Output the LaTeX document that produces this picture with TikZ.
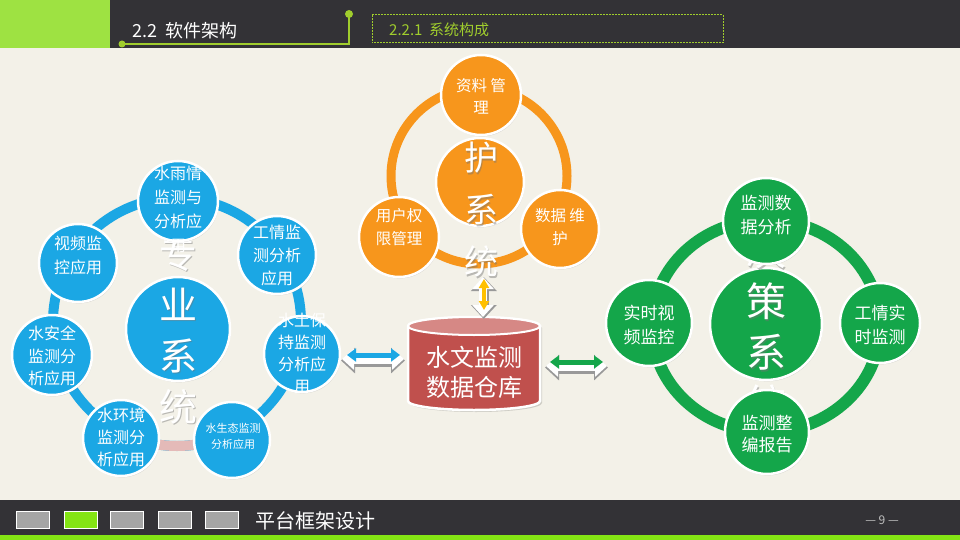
\documentclass[tikz,border=0pt]{standalone}
\usepackage{fontspec}
\setmainfont{Noto Sans CJK SC}
\usetikzlibrary{shadows,arrows.meta}
\definecolor{bgcream}{RGB}{243,241,232}
\definecolor{hdrdark}{RGB}{51,50,54}
\definecolor{hdrgreen}{RGB}{158,226,66}
\definecolor{lineg}{RGB}{160,205,45}
\definecolor{footgreen}{RGB}{132,228,20}
\definecolor{sqgray}{RGB}{165,165,165}
\definecolor{cblue}{RGB}{27,167,228}
\definecolor{pinkseg}{RGB}{228,186,184}
\definecolor{corange}{RGB}{247,150,28}
\definecolor{cgreen}{RGB}{20,166,74}
\definecolor{dbred}{RGB}{192,80,77}
\definecolor{dbtop}{RGB}{214,136,133}
\definecolor{cyellow}{RGB}{255,192,0}
\tikzset{
  sat/.style={circle, draw=white, line width=2.5pt, inner sep=0pt,
    drop shadow={opacity=0.28, shadow xshift=0.8pt, shadow yshift=-1.4pt}},
  sattxt/.style={text=white, align=center, inner sep=0pt},
  bigtxt/.style={text=white, align=center, inner sep=0pt},
  bigshd/.style={text=black!55, opacity=0.45, align=center, inner sep=0pt},
  sq/.style={rectangle, draw=white, line width=1.2pt, fill=sqgray, minimum width=33pt, minimum height=17pt, inner sep=0pt},
  tipL/.style={{Triangle[length=14pt,width=25pt]}-{Triangle[length=14pt,width=25pt]}},
  tipLw/.style={{Triangle[length=12pt,width=21pt]}-{Triangle[length=12pt,width=21pt]}},
  tipS/.style={{Triangle[length=9pt,width=13pt]}-{Triangle[length=9pt,width=13pt]}},
}
\begin{document}
\begin{tikzpicture}[x=1pt,y=-1pt]
\useasboundingbox (0,0) rectangle (960,540);
\fill[bgcream] (0,0) rectangle (960,540);
% header
\fill[hdrdark] (0,0) rectangle (960,48);
\fill[hdrgreen] (0,0) rectangle (110,48);
\draw[lineg, line width=1.6pt] (122,44) -- (349,44) -- (349,14);
\fill[lineg] (122,44) circle[radius=3.5pt];
\fill[lineg] (349,14) circle[radius=4pt];
\draw[lineg, line width=1pt, dash pattern=on 2pt off 1pt] (372,15) rectangle (723,43);
\node[anchor=west, text=white, inner sep=0pt, font=\fontsize{18}{20}\selectfont] (h1) at (132,31) {2.2\ \ 软件架构};
\node[anchor=west, text=lineg, inner sep=0pt, font=\fontsize{15}{18}\selectfont] (h2) at (389,30) {2.2.1\ \ 系统构成};
% footer
\fill[hdrdark] (0,500) rectangle (960,535);
\fill[footgreen] (0,535) rectangle (960,540);
\node[sq] (s1) at (33,520) {};
\node[sq, fill=footgreen] (s2) at (81,520) {};
\node[sq] (s3) at (127,520) {};
\node[sq] (s4) at (175,520) {};
\node[sq] (s5) at (222,520) {};
\node[anchor=west, text=white, inner sep=0pt, font=\fontsize{20}{22}\selectfont] (ft) at (255,521) {平台框架设计};
\node[text=black!25, inner sep=0pt, font=\fontsize{12}{14}\selectfont] (pg) at (882,520) {— 9 —};

% ===== blue cluster =====
\draw[cblue, line width=10pt] (177,322) circle[radius=124];
\draw[pinkseg, line width=10pt] ([shift={(75:124)}]177,322) arc[start angle=75, end angle=105, radius=124];
\node[sat, fill=cblue, minimum size=104pt] (bc) at (178,329) {};
\node[bigshd, font=\fontsize{38}{51}\selectfont] (bcs) at (179.5,331.5) {专\\业\\系\\统};
\node[bigtxt, font=\fontsize{38}{51}\selectfont] (bct) at (178,330) {专\\业\\系\\统};
\node[sat, fill=cblue, minimum size=80pt] (b1) at (178,201) {};
\node[sat, fill=cblue, minimum size=78pt] (b2) at (277,255) {};
\node[sat, fill=cblue, minimum size=76pt] (b3) at (302,354) {};
\node[sat, fill=cblue, minimum size=76pt] (b4) at (232,440) {};
\node[sat, fill=cblue, minimum size=76pt] (b5) at (121,438) {};
\node[sat, fill=cblue, minimum size=80pt] (b6) at (52,355) {};
\node[sat, fill=cblue, minimum size=78pt] (b7) at (78,263) {};
\node[sattxt, font=\fontsize{16}{24}\selectfont] (b1t) at (178,209) {水雨情\\监测与\\分析应\\用};
\node[sattxt, font=\fontsize{16}{23}\selectfont] (b2t) at (277,255) {工情监\\测分析\\应用};
\node[sattxt, font=\fontsize{16}{22}\selectfont] (b3t) at (302,353) {水土保\\持监测\\分析应\\用};
\node[sattxt, font=\fontsize{11}{16}\selectfont] (b4t) at (233,436) {水生态监测\\分析应用};
\node[sattxt, font=\fontsize{16}{22}\selectfont] (b5t) at (121,437) {水环境\\监测分\\析应用};
\node[sattxt, font=\fontsize{16}{22.5}\selectfont] (b6t) at (52,356) {水安全\\监测分\\析应用};
\node[sattxt, font=\fontsize{16}{24}\selectfont] (b7t) at (78,255) {视频监\\控应用};

% ===== orange cluster =====
\draw[corange, line width=9pt] (479,176) circle[radius=88];
\node[sat, fill=corange, minimum size=88pt] (oc) at (480,182) {};
\node[bigshd, font=\fontsize{34}{52}\selectfont] (ocs) at (482.5,185.5) {维\\护\\系\\统};
\node[bigtxt, font=\fontsize{34}{52}\selectfont] (oct) at (481,184) {维\\护\\系\\统};
\node[sat, fill=corange, minimum size=80pt] (o1) at (481,95) {};
\node[sat, fill=corange, minimum size=80pt] (o2) at (399,237) {};
\node[sat, fill=corange, minimum size=78pt] (o3) at (560,229) {};
\node[sattxt, font=\fontsize{15.5}{22}\selectfont] (o1t) at (481,96) {资料 管\\理};
\node[sattxt, font=\fontsize{15.5}{23}\selectfont] (o2t) at (399,227) {用户权\\限管理};
\node[sattxt, font=\fontsize{15.5}{23}\selectfont] (o3t) at (560,227) {数据 维\\护};

% ===== green cluster =====
\draw[cgreen, line width=12pt] (766,326) ellipse[x radius=114, y radius=106];
\node[sat, fill=cgreen, minimum size=112pt] (gc) at (766,324) {};
\node[bigshd, font=\fontsize{40}{51}\selectfont] (gcs) at (767.5,328.5) {决\\策\\系\\统};
\node[bigtxt, font=\fontsize{40}{51}\selectfont] (gct) at (766,327) {决\\策\\系\\统};
\node[sat, fill=cgreen, minimum size=86pt] (g1) at (766,221) {};
\node[sat, fill=cgreen, minimum size=86pt] (g2) at (649,323) {};
\node[sat, fill=cgreen, minimum size=80pt] (g3) at (880,323) {};
\node[sat, fill=cgreen, minimum size=84pt] (g4) at (767,432) {};
\node[sattxt, font=\fontsize{17}{24}\selectfont] (g1t) at (766,215) {监测数\\据分析};
\node[sattxt, font=\fontsize{17}{24}\selectfont] (g2t) at (649,325) {实时视\\频监控};
\node[sattxt, font=\fontsize{17}{24}\selectfont] (g3t) at (880,325) {工情实\\时监测};
\node[sattxt, font=\fontsize{17}{22}\selectfont] (g4t) at (767,434) {监测整\\编报告};

% ===== database cylinder =====
\fill[black, opacity=0.15] (410,328) -- (410,403) arc[start angle=180, end angle=0, x radius=66, y radius=9] -- (542,328) arc[start angle=0, end angle=-180, x radius=66, y radius=9] -- cycle;
\filldraw[fill=dbred, draw=white, line width=2.5pt] (408,326) -- (408,401) arc[start angle=180, end angle=0, x radius=66, y radius=9] -- (540,326) arc[start angle=0, end angle=-180, x radius=66, y radius=9] -- cycle;
\filldraw[fill=dbtop, draw=white, line width=2pt] (474,326) ellipse[x radius=66, y radius=9];
\node[minimum width=132pt, minimum height=93pt, inner sep=0pt] (db) at (474,363.5) {};
\node[sattxt, font=\fontsize{24}{30}\selectfont] (dbt) at (db.center) [yshift=-8.5pt] {水文监测\\数据仓库};

% ===== arrows =====
\coordinate (ya1) at (483,276);
\coordinate (ya2) at (483,318);
\coordinate (yb1) at (484,279);
\coordinate (yb2) at (484,310);
\draw[black!40, line width=10pt, tipL] ([shift={(0.8,1)}]ya1) -- ([shift={(0.8,1)}]ya2);
\draw[white, line width=8pt, tipLw] ([yshift=-1pt]ya1) -- ([yshift=1pt]ya2);
\draw[cyellow, line width=3.5pt, {Triangle[length=9pt,width=10pt]}-{Triangle[length=9pt,width=10pt]}] (yb1) -- (yb2);

\coordinate (ba1) at (341,359);
\coordinate (ba2) at (405,359);
\coordinate (bb1) at (347,355);
\coordinate (bb2) at (400,355);
\draw[black!40, line width=12pt, tipL] ([yshift=-1.5pt]ba1) -- ([yshift=-1.5pt]ba2);
\draw[white, line width=10pt, tipLw] ([xshift=1pt]ba1) -- ([xshift=-1pt]ba2);
\draw[cblue, line width=5pt, tipS] (bb1) -- (bb2);

\coordinate (ga1) at (545,366);
\coordinate (ga2) at (608,366);
\coordinate (gb1) at (550,362);
\coordinate (gb2) at (603,362);
\draw[black!40, line width=12pt, tipL] ([yshift=-1.5pt]ga1) -- ([yshift=-1.5pt]ga2);
\draw[white, line width=10pt, tipLw] ([xshift=1pt]ga1) -- ([xshift=-1pt]ga2);
\draw[cgreen, line width=5pt, tipS] (gb1) -- (gb2);
\end{tikzpicture}
\end{document}
